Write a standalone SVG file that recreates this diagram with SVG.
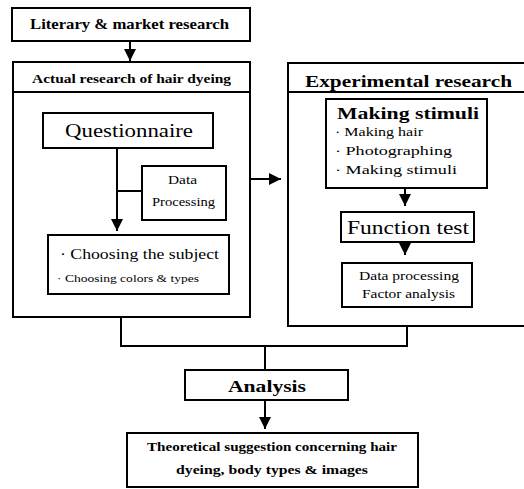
<svg xmlns="http://www.w3.org/2000/svg" width="524" height="489" viewBox="0 0 524 489">
<defs>
<style>
.box{fill:#fff;stroke:#000;stroke-width:2}
.ln{fill:none;stroke:#000;stroke-width:2}
text{font-family:"Liberation Serif","DejaVu Serif",serif;fill:#000}
.b{font-weight:bold}
.c{text-anchor:middle}
</style>
<marker id="a" viewBox="0 0 10 10" refX="10" refY="5" markerWidth="12" markerHeight="12" orient="auto" markerUnits="userSpaceOnUse">
<path d="M0,0 L10,5 L0,10 Z" fill="#000"/>
</marker>
</defs>
<g id="literary">
<rect class="box" x="12" y="8" width="238" height="33"/>
<text class="b" x="30" y="29" font-size="14" textLength="199" lengthAdjust="spacingAndGlyphs">Literary &amp; market research</text>
</g>
<g id="actual">
<rect class="box" x="13" y="62" width="237" height="255"/>
<line class="ln" x1="13" y1="92" x2="250" y2="92"/>
<text class="b" x="32" y="83" font-size="13" textLength="199" lengthAdjust="spacingAndGlyphs">Actual research of hair dyeing</text>
</g>
<g id="questionnaire">
<rect class="box" x="43" y="113" width="170" height="35"/>
<text x="65" y="137" font-size="19" textLength="128" lengthAdjust="spacingAndGlyphs">Questionnaire</text>
</g>
<g id="dataproc1">
<rect class="box" x="142" y="166" width="84" height="54"/>
<text x="168" y="184" font-size="12" textLength="29" lengthAdjust="spacingAndGlyphs">Data</text>
<text x="152" y="206" font-size="12" textLength="63" lengthAdjust="spacingAndGlyphs">Processing</text>
</g>
<g id="choosing">
<rect class="box" x="48" y="235" width="181" height="59"/>
<text x="60" y="259" font-size="15" textLength="159" lengthAdjust="spacingAndGlyphs">· Choosing the subject</text>
<text x="57" y="282" font-size="10" textLength="142" lengthAdjust="spacingAndGlyphs">· Choosing colors &amp; types</text>
</g>
<g id="experimental">
<rect class="box" x="288" y="63" width="250" height="263"/>
<line class="ln" x1="288" y1="92" x2="524" y2="92"/>
<text class="b" x="305" y="87" font-size="17.5" textLength="207" lengthAdjust="spacingAndGlyphs">Experimental research</text>
</g>
<g id="stimuli">
<rect class="box" x="326" y="99" width="161" height="89"/>
<text class="b" x="337" y="119" font-size="17.5" textLength="142" lengthAdjust="spacingAndGlyphs">Making stimuli</text>
<text x="335" y="136" font-size="13" textLength="88" lengthAdjust="spacingAndGlyphs">· Making hair</text>
<text x="335" y="155" font-size="13" textLength="117" lengthAdjust="spacingAndGlyphs">· Photographing</text>
<text x="335" y="174" font-size="13" textLength="122" lengthAdjust="spacingAndGlyphs">· Making stimuli</text>
</g>
<g id="function">
<rect class="box" x="341" y="212" width="133" height="30"/>
<text x="347" y="234" font-size="18" textLength="122" lengthAdjust="spacingAndGlyphs">Function test</text>
</g>
<g id="dataproc2">
<rect class="box" x="342" y="263" width="130" height="44"/>
<text x="359" y="280" font-size="12" textLength="100" lengthAdjust="spacingAndGlyphs">Data processing</text>
<text x="362" y="298" font-size="12" textLength="93" lengthAdjust="spacingAndGlyphs">Factor analysis</text>
</g>
<g id="analysis">
<rect class="box" x="185" y="370" width="163" height="30"/>
<text class="b" x="228" y="392" font-size="17.5" textLength="78" lengthAdjust="spacingAndGlyphs">Analysis</text>
</g>
<g id="theoretical">
<rect class="box" x="127" y="433" width="291" height="54"/>
<text class="b" x="147" y="451" font-size="12.5" textLength="250" lengthAdjust="spacingAndGlyphs">Theoretical suggestion concerning hair</text>
<text class="b" x="176" y="474" font-size="12.5" textLength="192" lengthAdjust="spacingAndGlyphs">dyeing, body types &amp; images</text>
</g>
<g id="connectors">
<line class="ln" x1="130" y1="41" x2="130" y2="61" marker-end="url(#a)"/>
<line class="ln" x1="117" y1="148" x2="117" y2="231" marker-end="url(#a)"/>
<line class="ln" x1="117" y1="191" x2="142" y2="191"/>
<line class="ln" x1="250" y1="179" x2="281" y2="179" marker-end="url(#a)"/>
<line class="ln" x1="405" y1="188" x2="405" y2="206" marker-end="url(#a)"/>
<line class="ln" x1="405" y1="242" x2="405" y2="255" marker-end="url(#a)"/>
<polyline class="ln" points="121,317 121,346 407,346 407,326"/>
<line class="ln" x1="265" y1="346" x2="265" y2="370"/>
<line class="ln" x1="265" y1="400" x2="265" y2="429" marker-end="url(#a)"/>
</g>
</svg>
